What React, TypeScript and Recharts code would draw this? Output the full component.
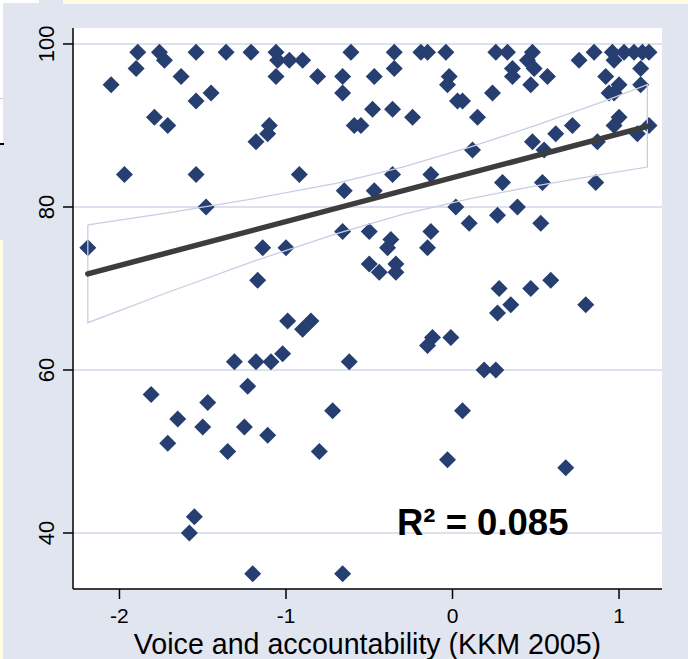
import { CartesianGrid, Scatter, ScatterChart, XAxis, YAxis } from "recharts";

// voice & accountability score vs. outcome (%)
const countryPoints: [number, number][] = [
  [-1.89, 99], [-1.76, 99], [-1.73, 98], [-1.9, 97], [-2.05, 95], [-1.63, 96],
  [-1.54, 99], [-1.54, 93], [-1.45, 94], [-1.36, 99], [-1.21, 99], [-1.06, 99],
  [-1.05, 98], [-0.98, 98], [-0.9, 98], [-1.06, 96], [-0.81, 96], [-0.66, 96],
  [-0.66, 94], [-1.79, 91], [-1.71, 90], [-1.18, 88], [-1.11, 89], [-1.1, 90],
  [-1.97, 84], [-1.54, 84], [-0.92, 84], [-1.48, 80], [-0.65, 82], [-2.19, 75],
  [-1.14, 75], [-1.0, 75], [-0.66, 77],
  [-0.61, 99], [-0.35, 99], [-0.35, 97], [-0.47, 96], [-0.19, 99], [-0.15, 99],
  [-0.04, 99], [-0.02, 96], [-0.03, 95], [0.26, 99], [0.33, 99], [0.48, 99],
  [0.45, 98], [0.36, 97], [0.36, 96], [0.49, 97], [0.57, 96], [0.47, 95],
  [0.24, 94], [0.76, 98], [0.85, 99], [0.96, 99], [0.97, 98], [1.03, 99],
  [1.09, 99], [1.14, 99], [1.18, 99], [1.13, 97], [0.92, 96], [1.13, 95],
  [1.0, 95], [0.97, 94], [0.94, 94], [-0.48, 92], [-0.36, 92], [-0.24, 91],
  [-0.59, 90], [-0.55, 90], [0.03, 93], [0.06, 93], [0.15, 91], [0.12, 87],
  [0.48, 88], [0.55, 87], [0.62, 89], [0.72, 90], [0.87, 88], [0.97, 90],
  [1.0, 91], [1.11, 89], [1.18, 90], [-0.36, 84], [-0.13, 84], [-0.47, 82],
  [0.3, 83], [0.54, 83], [0.86, 83], [0.02, 80], [0.1, 78], [0.27, 79],
  [0.39, 80], [0.53, 78], [-0.5, 77], [-0.37, 76], [-0.39, 75], [-0.13, 77],
  [-0.15, 75],
  [-0.5, 73], [-0.44, 72], [-0.34, 73], [-0.34, 72], [0.28, 70], [0.47, 70],
  [0.59, 71], [0.8, 68], [0.35, 68], [0.27, 67], [-0.12, 64], [-0.15, 63],
  [-0.01, 64], [-0.62, 61], [0.19, 60], [0.26, 60], [0.06, 55], [-0.03, 49],
  [0.68, 48],
  [-1.17, 71], [-0.99, 66], [-0.85, 66], [-0.9, 65], [-1.02, 62], [-1.31, 61],
  [-1.18, 61], [-1.09, 61], [-1.81, 57], [-1.23, 58], [-1.47, 56], [-1.65, 54],
  [-1.5, 53], [-1.25, 53], [-1.11, 52], [-1.71, 51], [-1.35, 50], [-0.8, 50],
  [-0.72, 55],
  [-1.55, 42], [-1.58, 40], [-1.2, 35], [-0.66, 35],
];

// fitted line and its confidence band
const fitX = [-2.19, 1.17];
const fitY = [71.8, 89.9];
const bandX = [-2.19, -1.7, -1.2, -0.7, -0.3, 0.1, 0.5, 0.9, 1.17];
const bandUpper = [77.8, 79.3, 81.0, 82.9, 84.9, 87.3, 90.0, 92.9, 95.0];
const bandLower = [65.8, 69.6, 73.3, 76.7, 79.1, 81.0, 82.6, 84.0, 84.9];

const xTicks = [-2, -1, 0, 1];
const yTicks = [40, 60, 80, 100];
const xTitle = "Voice and accountability (KKM 2005)";
const r2Label = "R² = 0.085";

const FONT = "'Liberation Sans', Arial, Helvetica, sans-serif";
const NAVY = "#263f70";

const points = countryPoints.map(([x, y]) => ({ x, y }));
const fitLine = fitX.map((x, i) => ({ x, y: fitY[i] }));
// closed outline: upper edge left->right, lower edge back right->left
const bandOutline = [
  ...bandX.map((x, i) => ({ x, y: bandUpper[i] })),
  ...bandX.map((x, i) => ({ x, y: bandLower[i] })).reverse(),
  { x: bandX[0], y: bandUpper[0] },
];

const Diamond = (props: any) => {
  const { cx, cy } = props;
  if (cx == null || cy == null) return <g />;
  const r = 8.5;
  return (
    <polygon
      points={`${cx},${cy - r} ${cx + r},${cy} ${cx},${cy + r} ${cx - r},${cy}`}
      fill={NAVY}
    />
  );
};

const NoDot = () => <g />;

const YTick = (props: any) => {
  const { y, payload } = props;
  const bx = 54;
  return (
    <text
      x={bx}
      y={y}
      transform={`rotate(-90 ${bx} ${y})`}
      textAnchor="middle"
      fontSize={22}
      fontFamily={FONT}
      fill="#000"
    >
      {payload.value}
    </text>
  );
};

const XTitle = (props: any) => {
  const vb = props.viewBox || { x: 73, y: 589, width: 589, height: 70 };
  return (
    <text
      x={vb.x + vb.width / 2}
      y={654}
      textAnchor="middle"
      fontSize={28.6}
      fontFamily={FONT}
      fill="#000"
    >
      {xTitle}
    </text>
  );
};

export default function App() {
  return (
    <div
      style={{
        position: "absolute",
        left: 0,
        top: 0,
        width: 688,
        height: 659,
        background: "#e1e5f0",
        overflow: "hidden",
      }}
    >
      {/* bits of the slide around the figure */}
      <div style={{ position: "absolute", left: 63, top: 0, width: 625, height: 4, background: "#fffde1" }} />
      <div style={{ position: "absolute", left: 0, top: 0, width: 39, height: 3, background: "#ffffff" }} />
      <div style={{ position: "absolute", left: 0, top: 3, width: 3, height: 140, background: "#ffffff" }} />
      <div style={{ position: "absolute", left: 0, top: 98, width: 3, height: 1, background: "#c9cede" }} />
      <div style={{ position: "absolute", left: 0, top: 143, width: 4, height: 1.5, background: "#000" }} />
      <div style={{ position: "absolute", left: 0, top: 240, width: 3, height: 419, background: "#fffde1" }} />

      <ScatterChart
        width={688}
        height={659}
        margin={{ top: 28, right: 26, left: 0, bottom: 0 }}
        style={{ position: "absolute", left: 0, top: 0 }}
      >
        <CartesianGrid
          vertical={false}
          fill="#ffffff"
          stroke="#dde1ee"
          strokeWidth={2}
          horizontalValues={yTicks}
        />
        <XAxis
          type="number"
          dataKey="x"
          domain={[-2.279, 1.258]}
          ticks={xTicks}
          allowDataOverflow
          height={70}
          axisLine={{ stroke: "#000", strokeWidth: 1.5 }}
          tickLine={{ stroke: "#000", strokeWidth: 1.5 }}
          tickSize={10}
          tickMargin={9}
          tick={{ fontSize: 21, fill: "#000", fontFamily: FONT }}
          label={XTitle}
        />
        <YAxis
          type="number"
          dataKey="y"
          domain={[33.13, 101.96]}
          ticks={yTicks}
          allowDataOverflow
          width={73}
          axisLine={{ stroke: "#000", strokeWidth: 1.5 }}
          tickLine={{ stroke: "#000", strokeWidth: 1.5 }}
          tickSize={10}
          tick={YTick}
        />
        <Scatter data={points} shape={Diamond} isAnimationActive={false} />
        <Scatter
          data={bandOutline}
          shape={NoDot}
          line={{ stroke: "#c8cee1", strokeWidth: 1.3 }}
          isAnimationActive={false}
        />
        <Scatter
          data={fitLine}
          shape={NoDot}
          line={{ stroke: "#3d3d3d", strokeWidth: 5.5, strokeLinecap: "round" }}
          isAnimationActive={false}
        />
      </ScatterChart>

      <svg
        width={688}
        height={659}
        style={{ position: "absolute", left: 0, top: 0, pointerEvents: "none" }}
      >
        <text x={397} y={535} fontSize={36.5} fontWeight="bold" fontFamily={FONT} fill="#000">
          {r2Label}
        </text>
      </svg>
    </div>
  );
}
